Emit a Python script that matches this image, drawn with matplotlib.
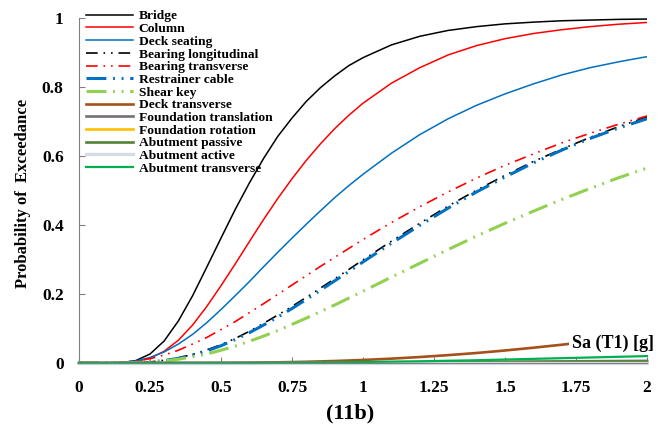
import matplotlib
matplotlib.use("Agg")
import matplotlib.pyplot as plt

plt.rcParams['font.family'] = ['Liberation Serif', 'DejaVu Serif']
plt.rcParams['font.weight'] = 'bold'

sa = [0, 0.1, 0.15, 0.2, 0.25, 0.3, 0.35, 0.4, 0.45, 0.5, 0.55, 0.6, 0.65, 0.7, 0.75,
      0.8, 0.85, 0.9, 0.95, 1.0, 1.1, 1.2, 1.3, 1.4, 1.5, 1.6, 1.7, 1.8, 1.9, 2.0]

bridge = [0, 0, 0.001, 0.007, 0.026, 0.064, 0.122, 0.195, 0.278, 0.362, 0.445, 0.522, 0.593,
          0.657, 0.71, 0.758, 0.798, 0.832, 0.862, 0.885, 0.922, 0.947, 0.964, 0.975, 0.983,
          0.988, 0.992, 0.994, 0.996, 0.997]
column = [0, 0, 0.0005, 0.004, 0.014, 0.034, 0.066, 0.110, 0.164, 0.224, 0.287, 0.352, 0.416,
          0.477, 0.534, 0.587, 0.635, 0.679, 0.718, 0.753, 0.811, 0.856, 0.893, 0.920, 0.940,
          0.955, 0.966, 0.975, 0.982, 0.987]
deck_seating = [0, 0, 0.001, 0.006, 0.016, 0.032, 0.055, 0.083, 0.117, 0.155, 0.195, 0.236,
                0.279, 0.321, 0.362, 0.402, 0.441, 0.479, 0.514, 0.547, 0.608, 0.662, 0.708,
                0.747, 0.780, 0.809, 0.835, 0.856, 0.873, 0.888]
bearing_long = [0, 0, 0, 0.001, 0.003, 0.008, 0.015, 0.025, 0.038, 0.053, 0.071, 0.092, 0.115,
                0.139, 0.164, 0.190, 0.217, 0.244, 0.271, 0.299, 0.353, 0.405, 0.455, 0.501,
                0.544, 0.584, 0.620, 0.654, 0.685, 0.713]
bearing_trans = [0, 0, 0.002, 0.0055, 0.0126, 0.023, 0.037, 0.055, 0.074, 0.097, 0.120, 0.146,
                 0.172, 0.199, 0.226, 0.253, 0.280, 0.306, 0.332, 0.358, 0.407, 0.453, 0.496,
                 0.536, 0.573, 0.606, 0.638, 0.666, 0.692, 0.716]
restrainer = [0, 0, 0, 0.001, 0.003, 0.007, 0.0135, 0.023, 0.035, 0.050, 0.068, 0.088, 0.110,
              0.133, 0.158, 0.184, 0.211, 0.238, 0.265, 0.293, 0.347, 0.399, 0.449, 0.496,
              0.539, 0.580, 0.617, 0.651, 0.681, 0.708]
shear_key = [0, 0, 0, 0.001, 0.003, 0.006, 0.011, 0.018, 0.026, 0.037, 0.049, 0.063, 0.078,
             0.094, 0.112, 0.130, 0.149, 0.168, 0.188, 0.208, 0.249, 0.289, 0.329, 0.368,
             0.405, 0.440, 0.474, 0.506, 0.537, 0.565]
deck_trans = [0, 0, 0, 0, 0, 0, 0, 0, 0, 0.0004, 0.0007, 0.001, 0.0015, 0.002, 0.0027, 0.0035,
              0.0046, 0.0058, 0.0072, 0.0088, 0.0126, 0.0173, 0.0228, 0.029, 0.0363, 0.0443,
              0.053, 0.0624, 0.0725, 0.0832]
found_trans = [0, 0, 0, 0, 0, 0, 0, 0, 0, 0, 0, 0, 0, 0, 0, 0.0002, 0.0003, 0.0005, 0.0007,
               0.001, 0.0014, 0.0019, 0.0024, 0.003, 0.0035, 0.0041, 0.0046, 0.0052, 0.0057,
               0.0062]
found_rot = [0] * 30
abut_passive = [0, 0, 0, 0, 0, 0, 0, 0, 0, 0, 0, 0, 0, 0, 0, 0.0001, 0.0002, 0.0003, 0.0004,
                0.0005, 0.0008, 0.0012, 0.0016, 0.002, 0.0024, 0.0028, 0.0032, 0.0036, 0.004,
                0.0044]
abut_active = [0] * 30
abut_trans = [0, 0, 0, 0, 0, 0, 0, 0, 0, 0, 0, 0, 0.0002, 0.0004, 0.0007, 0.001, 0.0014,
              0.0018, 0.0023, 0.003, 0.004, 0.005, 0.0065, 0.008, 0.010, 0.012, 0.014, 0.016,
              0.018, 0.020]

x_ticks = [0, 0.25, 0.5, 0.75, 1, 1.25, 1.5, 1.75, 2]
x_tick_labels = ['0', '0.25', '0.5', '0.75', '1', '1.25', '1.5', '1.75', '2']
y_ticks = [0, 0.2, 0.4, 0.6, 0.8, 1]
y_tick_labels = ['0', '0.2', '0.4', '0.6', '0.8', '1']

fig = plt.figure(figsize=(6.7, 4.3), dpi=100)
ax = fig.add_axes([79 / 670, 1 - 363 / 430, 568 / 670, 345 / 430])

dd_thin = (0, (7, 3.5, 1, 3.5, 1, 3.5))
dd_thick = (0, (6.5, 2.2, 0.6, 2.2, 0.6, 2.2))

ax.plot(sa, bridge, color='black', lw=1.1, label='Bridge')
ax.plot(sa, column, color='#ff0000', lw=1.1, label='Column')
ax.plot(sa, deck_seating, color='#0070c0', lw=1.1, label='Deck seating')
ax.plot(sa, bearing_long, color='black', lw=1.2, ls=dd_thin, label='Bearing longitudinal')
ax.plot(sa, bearing_trans, color='#ff0000', lw=1.2, ls=dd_thin, label='Bearing transverse')
ax.plot(sa, restrainer, color='#0070c0', lw=2.2, ls=dd_thick, label='Restrainer cable')
ax.plot(sa, shear_key, color='#92d050', lw=2.2, ls=dd_thick, label='Shear key')
ax.plot(sa, deck_trans, color='#a5511c', lw=1.9, label='Deck transverse')
ax.plot(sa, found_trans, color='#767171', lw=1.9, label='Foundation translation', clip_on=False)
ax.plot(sa, found_rot, color='#ffc000', lw=1.9, label='Foundation rotation', clip_on=False)
ax.plot(sa, abut_passive, color='#548235', lw=1.9, label='Abutment passive', clip_on=False)
ax.plot(sa, abut_active, color='#d6dce5', lw=2.4, label='Abutment active', clip_on=False)
ax.plot(sa, abut_trans, color='#00b050', lw=1.6, label='Abutment transverse', clip_on=False)

ax.set_xlim(0, 2)
ax.set_ylim(0, 1)
ax.set_xticks(x_ticks)
ax.set_xticklabels(x_tick_labels)
ax.set_yticks(y_ticks)
ax.set_yticklabels(y_tick_labels)
ax.tick_params(direction='in', length=4, color='#808080', labelsize=12.5)
ax.tick_params(axis='x', pad=12)
ax.tick_params(axis='y', pad=11)

for s in ['top', 'right']:
    ax.spines[s].set_visible(False)
ax.spines['left'].set_color('#808080')
ax.spines['bottom'].set_color('#808080')

leg = ax.legend(loc='upper left', bbox_to_anchor=(86 / 670, 1 - 10 / 430),
                bbox_transform=fig.transFigure, frameon=False, fontsize=9.7,
                handlelength=3.5, handletextpad=0.4, labelspacing=0.02,
                borderpad=0, borderaxespad=0)

ax.text(1.736, 0.058, 'Sa (T1) [g]', fontsize=13, fontweight='bold', ha='left',
        va='center', zorder=10, clip_on=False,
        bbox=dict(facecolor='white', edgecolor='none', pad=2))

fig.text(350 / 670, 1 - 413 / 430, '(11b)', fontsize=16, fontweight='bold',
         ha='center', va='center')
fig.text(23 / 670, 1 - 193 / 430, 'Probability of  Exceedance', fontsize=12,
         fontweight='bold', rotation=90, ha='center', va='center')

fig.savefig('out.png', dpi=100)
